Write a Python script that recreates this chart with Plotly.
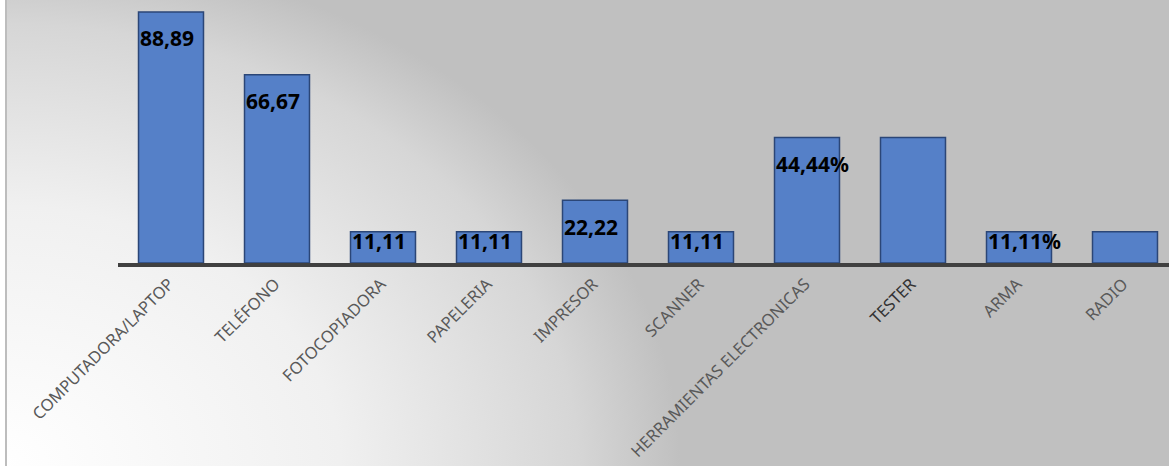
import base64
import plotly.graph_objects as go

# ---- data ----
categories = ["COMPUTADORA/LAPTOP", "TELÉFONO", "FOTOCOPIADORA", "PAPELERIA", "IMPRESOR",
              "SCANNER", "HERRAMIENTAS ELECTRONICAS", "TESTER", "ARMA", "RADIO"]
values = [88.89, 66.67, 11.11, 11.11, 22.22, 11.11, 44.44, 44.44, 11.11, 11.11]
label_texts = ["88,89", "66,67", "11,11", "11,11", "22,22", "11,11", "44,44%", "", "11,11%", ""]

# ---- styling ----
W, H = 1169, 466
M_L, M_R, M_T, M_B = 118, 0, 0, 203
Y_MAX = 93.13
BAR_FILL = "#5580C8"
BAR_EDGE = "#2B4677"
TICK_COLOR = "#595959"
TICK_DARK = {"TESTER": "#333333"}
CAT_PX = 106.0
BAR_W = 0.613

svg = f"""<svg xmlns='http://www.w3.org/2000/svg' width='{W}' height='{H}' viewBox='0 0 {W} {H}' preserveAspectRatio='none'>
<defs><radialGradient id='g' gradientUnits='userSpaceOnUse' cx='0' cy='0' r='1'
 gradientTransform='translate(0 {H}) scale(680 520)'>
<stop offset='0' stop-color='#FFFFFF'/><stop offset='0.5' stop-color='#F0F0F0'/>
<stop offset='0.85' stop-color='#D6D6D6'/><stop offset='1' stop-color='#C0C0C0'/></radialGradient></defs>
<rect x='0' y='0' width='{W}' height='{H}' fill='url(#g)'/>
<rect x='0' y='0' width='5' height='{H}' fill='#FFFFFF'/>
<rect x='5' y='0' width='2' height='{H}' fill='#BDBDBD'/>
</svg>"""
src = "data:image/svg+xml;base64," + base64.b64encode(svg.encode()).decode()

plot_w = W - M_L - M_R
plot_h = H - M_T - M_B
n = len(categories)

fig = go.Figure(go.Bar(
    x=list(range(n)), y=values,
    marker=dict(color=BAR_FILL, line=dict(color=BAR_EDGE, width=1.5)),
    width=BAR_W, hoverinfo="skip"))

x_range = [-0.5, -0.5 + plot_w / CAT_PX]
px_per_unit = plot_h / Y_MAX
half_bar_px = BAR_W * CAT_PX / 2

annotations = []
for i, (v, t) in enumerate(zip(values, label_texts)):
    if not t:
        continue
    drop = 27.5 if v * px_per_unit > 50 else 10
    annotations.append(dict(
        x=i, y=v, xref="x", yref="y", text=t, showarrow=False,
        xanchor="left", yanchor="middle", xshift=-half_bar_px - 1, yshift=-drop + 1,
        font=dict(family="Noto Sans", size=21, color="#000000", weight="bold")))

ticktext = [f"<span style='color:{TICK_DARK[c]}'>{c}</span>" if c in TICK_DARK else c
            for c in categories]

fig.update_layout(
    width=W, height=H,
    margin=dict(l=M_L, r=M_R, t=M_T, b=M_B, pad=0, autoexpand=False),
    paper_bgcolor="rgba(0,0,0,0)", plot_bgcolor="rgba(0,0,0,0)",
    showlegend=False,
    images=[dict(source=src, xref="paper", yref="paper",
                 x=-M_L / plot_w, y=1 + M_T / plot_h,
                 sizex=W / plot_w, sizey=H / plot_h,
                 xanchor="left", yanchor="top", sizing="stretch", layer="below")],
    annotations=annotations,
    xaxis=dict(range=x_range, tickmode="array", tickvals=list(range(n)), ticktext=ticktext,
               tickangle=-45, showgrid=False, zeroline=False, showline=True,
               linecolor="#404040", linewidth=4, ticks="", automargin=False,
               ticklabelstandoff=1, ticklabelshift=-2,
               tickfont=dict(family="Noto Sans", size=16.5, color=TICK_COLOR)),
    yaxis=dict(range=[0, Y_MAX], showgrid=False, zeroline=False, showline=False,
               showticklabels=False, ticks="", automargin=False),
)

fig.write_html("out.html", config={"displayModeBar": False},
               post_script="document.body.style.margin='0px';document.body.style.padding='0px';")
